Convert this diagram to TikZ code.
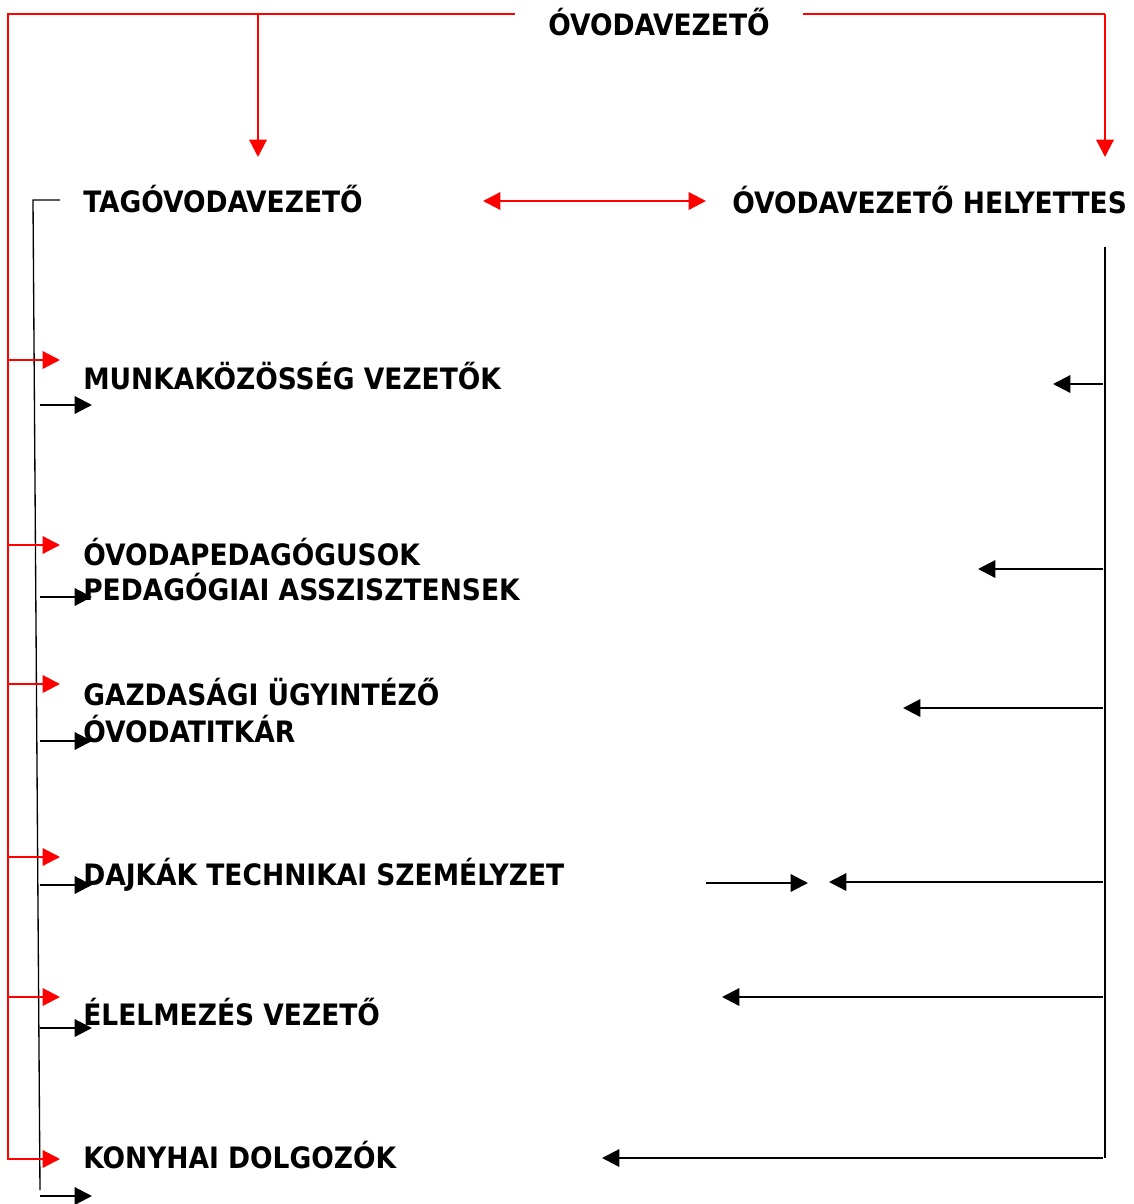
\documentclass[tikz,border=0pt]{standalone}
\usepackage{fontspec}
\setmainfont{DejaVu Sans Condensed}
\usetikzlibrary{arrows.meta}

\begin{document}
\begin{tikzpicture}[x=0.75pt, y=-0.75pt,
    font=\fontsize{22.1}{26}\selectfont\bfseries,
    title/.style={anchor=base west, inner sep=0pt},
    redbus/.style={draw=red, line width=1pt},
    blkbus/.style={draw=black, line width=1pt},
    arrowtip/.style={-{Triangle[length=13pt, width=13pt]}},
    redarr/.style={draw=red, line width=1.7pt, arrowtip},
    blkarr/.style={draw=black, line width=1.7pt, arrowtip}
]
\useasboundingbox (0,0) rectangle (1134,1204);

\node[title] (vezeto) at (548,35) {ÓVODAVEZETŐ};
\node[title] (tag) at (83,212) {TAGÓVODAVEZETŐ};
\node[title] (helyettes) at (732,213) {ÓVODAVEZETŐ HELYETTES};
\node[title] (munka) at (83,389) {MUNKAKÖZÖSSÉG VEZETŐK};
\node[title] (ped) at (83,565) {ÓVODAPEDAGÓGUSOK};
\node[title] (asszisztens) at (83,600) {PEDAGÓGIAI ASSZISZTENSEK};
\node[title] (gazd) at (83,705) {GAZDASÁGI ÜGYINTÉZŐ};
\node[title] (titkar) at (83,742) {ÓVODATITKÁR};
\node[title] (dajka) at (83,885) {DAJKÁK TECHNIKAI SZEMÉLYZET};
\node[title] (elelmezes) at (83,1025) {ÉLELMEZÉS VEZETŐ};
\node[title] (konyha) at (83,1168) {KONYHAI DOLGOZÓK};

% bus lines
\coordinate (redL) at (8,14);
\coordinate (redM) at (258,14);
\coordinate (redR) at (1105,14);
\coordinate (blkL) at (40,0);
\coordinate (blkR) at (1103,0);

\draw[redbus] (515,14) -- (redL) -- (8,1160);
\draw[redbus] (803,14) -- (redR);
\draw[redarr] (redM) -- (258,157);
\draw[redarr] (redR) -- (1105,157);
\draw[redarr, {Triangle[length=13pt, width=13pt]}-{Triangle[length=13pt, width=13pt]}] (483,201) -- (706,201);

\draw[blkbus] (60,200) -- (33,200) -- (40,1190);
\draw[blkbus, line width=1.2pt] (1105,247) -- (1105,1158);

% row arrows
\foreach \r/\b/\k/\e in {360/405/384/1053, 545/597/569/978, 684/741/708/903,
                         857/885/882/829, 997/1028/997/722, 1159/1196/1158/602}{
  \draw[redarr] (redL |- 0,\r) -- +(52,0);
  \draw[blkarr] (blkL |- 0,\b) -- +(52,0);
  \draw[blkarr] (blkR |- 0,\k) -- (\e,\k);
}
\draw[blkarr] (706,883) -- (808,883);
\end{tikzpicture}
\end{document}
